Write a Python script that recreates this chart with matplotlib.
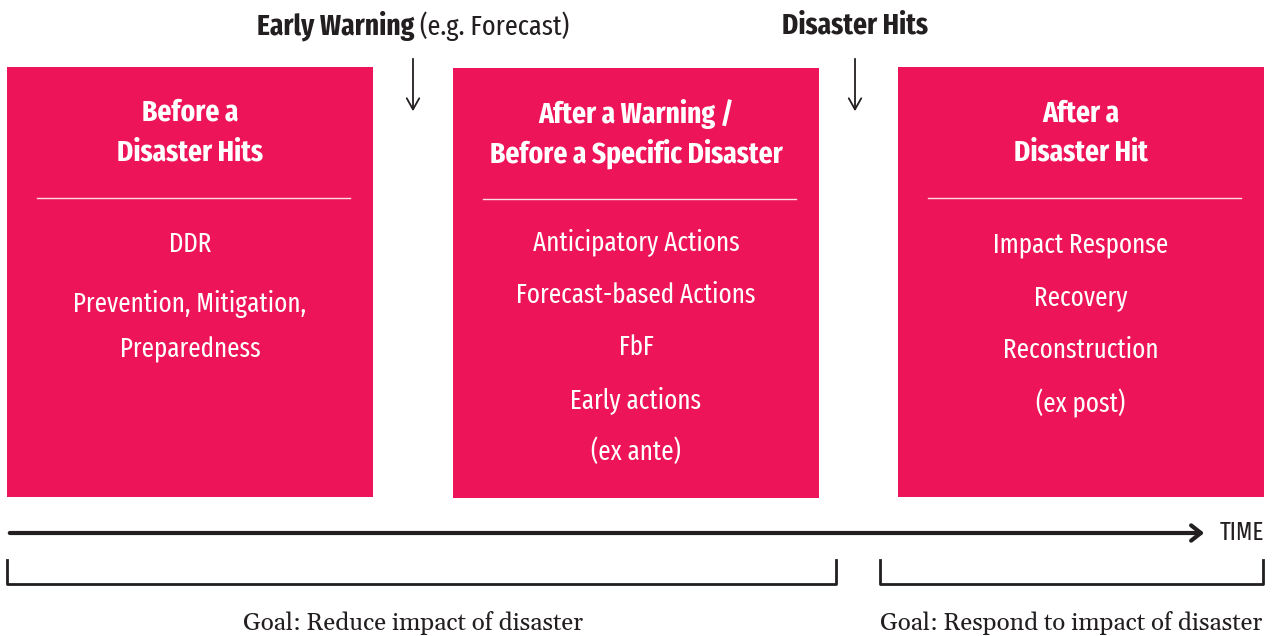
import matplotlib
matplotlib.use('Agg')
import matplotlib.pyplot as plt
from matplotlib.patches import Rectangle

# 内容
box_titles = [["Before a", "Disaster Hits"],
              ["After a Warning /", "Before a Specific Disaster"],
              ["After a", "Disaster Hit"]]
box_items = [["DDR", "Prevention, Mitigation,", "Preparedness"],
             ["Anticipatory Actions", "Forecast-based Actions", "FbF",
              "Early actions", "(ex ante)"],
             ["Impact Response", "Recovery", "Reconstruction", "(ex post)"]]
event_bold = ["Early Warning", "Disaster Hits"]
event_note = ["(e.g. Forecast)", ""]
goals = ["Goal: Reduce impact of disaster", "Goal: Respond to impact of disaster"]
axis_label = "TIME"

PINK = '#ee1459'
DARK = '#231f20'
COND = ['Fira Sans Extra Condensed', 'DejaVu Sans']
SERIF = ['Gelasio', 'DejaVu Serif']

fig = plt.figure(figsize=(12.77, 6.36), dpi=100)
ax = fig.add_axes([0, 0, 1, 1])
ax.set_xlim(0, 1277)
ax.set_ylim(636, 0)
ax.axis('off')

box_x = [7, 453, 898]
box_w = 366
box_top = [67, 68, 67]
box_h = 430
title_y = [[113, 153], [114, 154], [114, 153]]
item_y = [[244, 304, 350],
          [242, 295, 347, 400, 452],
          [245, 298, 350, 403]]

TITLE_FS = 21.5
BODY_FS = 19.5

for i in range(3):
    x0 = box_x[i]
    cx = x0 + box_w / 2
    ax.add_patch(Rectangle((x0, box_top[i]), box_w, box_h, color=PINK, lw=0))
    for s, y in zip(box_titles[i], title_y[i]):
        ax.text(cx, y, s, ha='center', va='center', color='white',
                fontsize=TITLE_FS, fontweight='bold', family=COND)
    ax.plot([x0 + 30, x0 + box_w - 23], [box_top[i] + 131] * 2,
            color='white', lw=1.0, alpha=0.85)
    for s, y in zip(box_items[i], item_y[i]):
        ax.text(cx, y, s, ha='center', va='center', color='white',
                fontsize=BODY_FS, family=COND)

# 上方事件和箭头
event_x = [413, 855]
fig.canvas.draw()
r = fig.canvas.get_renderer()
for k in range(2):
    bold = event_bold[k] + (' ' if event_note[k] else '')
    t = ax.text(0, 26, bold, fontsize=TITLE_FS, fontweight='bold',
                family=COND, color=DARK, va='center')
    t2 = ax.text(0, 26, event_note[k], fontsize=TITLE_FS - 1, family=COND,
                 color=DARK, va='center')
    w1 = t.get_window_extent(r).width
    w2 = t2.get_window_extent(r).width if event_note[k] else 0
    left = event_x[k] - (w1 + w2) / 2
    t.set_x(left)
    t2.set_x(left + w1)
    ax.annotate('', xy=(event_x[k], 114), xytext=(event_x[k], 56),
                arrowprops=dict(arrowstyle='->,head_length=0.8,head_width=0.45',
                                color=DARK, lw=1.3))

# 时间轴
ax.annotate('', xy=(1207, 533), xytext=(7, 533),
            arrowprops=dict(arrowstyle='->,head_length=0.7,head_width=0.55',
                            color=DARK, lw=3))
ax.text(1264, 533, axis_label, ha='right', va='center', fontsize=18,
        family=COND, color=DARK)

# 括号
brackets = [(7, 836), (880, 1263)]
for (a, b) in brackets:
    ax.plot([a, a, b, b], [560, 584, 584, 560], color=DARK, lw=2)
goal_x = [413, 1071]
for g, gx in zip(goals, goal_x):
    ax.text(gx, 623, g, ha='center', va='center', fontsize=17.5,
            family=SERIF, color=DARK)

fig.savefig('out.png', dpi=100)
